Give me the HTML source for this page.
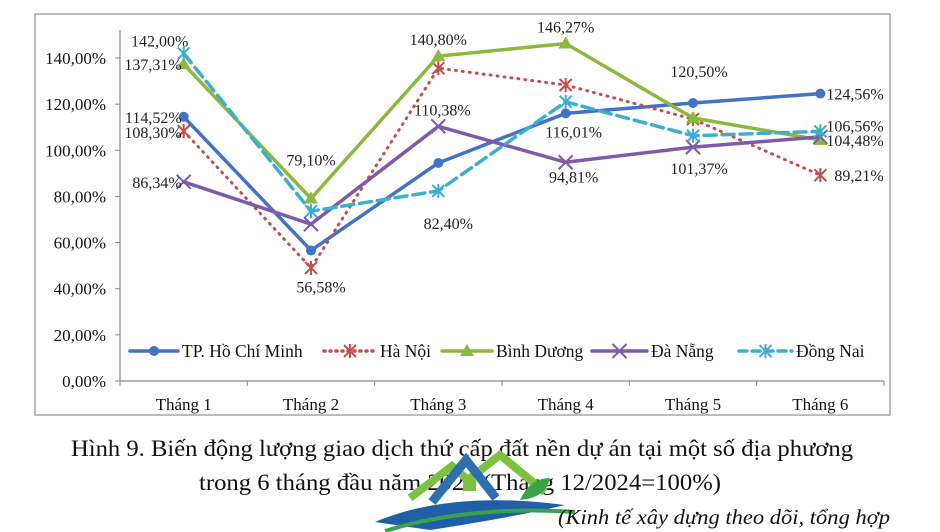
<!DOCTYPE html>
<html><head><meta charset="utf-8"><style>
html,body{margin:0;padding:0;background:#fff;width:940px;height:532px;overflow:hidden}
svg text{font-family:"Liberation Serif",serif}
</style></head><body>
<svg width="940" height="532" viewBox="0 0 940 532">
<rect x="35" y="14" width="855" height="401" fill="#fff" stroke="#a6a6a6" stroke-width="1.5"/>
<g id="axes"></g>
<g id="series"></g>
<g id="labels"></g>
<g id="legend"></g>
<text x="462" y="456" text-anchor="middle" font-size="23" textLength="782" lengthAdjust="spacingAndGlyphs" fill="#111">Hình 9. Biến động lượng giao dịch thứ cấp đất nền dự án tại một số địa phương</text>
<text x="460" y="490" text-anchor="middle" font-size="23" textLength="522" lengthAdjust="spacingAndGlyphs" fill="#111">trong 6 tháng đầu năm 2025 (Tháng 12/2024=100%)</text>
<g>
<path d="M410 498 L452 466 L468 480 L500 455 L545 492" fill="none" stroke="#7cc242" stroke-width="8"/>
<path d="M432 502 L466 460 L496 498" fill="none" stroke="#2f6fb0" stroke-width="9"/>
<rect x="463" y="478" width="13" height="13" fill="#7cc242"/>
<path d="M375 522 Q450 490 565 505 Q520 516 430 530 Z" fill="#1e5fa8"/>
<path d="M385 531 Q470 505 575 512" fill="none" stroke="#3aa34a" stroke-width="4"/>
<path d="M520 500 Q530 478 550 478 Q546 498 520 500 Z" fill="#3aa34a"/>
</g>
<text x="890" y="524" text-anchor="end" font-size="21" font-style="italic" textLength="332" lengthAdjust="spacingAndGlyphs" fill="#111">(Kinh tế xây dựng theo dõi, tổng hợp</text>
<script>
const categories=["Tháng 1","Tháng 2","Tháng 3","Tháng 4","Tháng 5","Tháng 6"];
const yTicks=[0,20,40,60,80,100,120,140];
const yTickLabels=["0,00%","20,00%","40,00%","60,00%","80,00%","100,00%","120,00%","140,00%"];
const seriesNames=["TP. Hồ Chí Minh","Hà Nội","Bình Dương","Đà Nẵng","Đồng Nai"];
const hcm=[114.52,56.58,94.5,116.01,120.50,124.56];
const hanoi=[108.30,49.0,135.6,128.3,113.5,89.21];
const binhduong=[137.31,79.10,140.80,146.27,114.0,104.48];
const danang=[86.34,68.0,110.38,94.81,101.37,105.8];
const dongnai=[142.00,73.6,82.40,121.0,106.3,108.2];
const hcmLabels=["114,52%","56,58%","","116,01%","120,50%","124,56%"];
const hanoiLabels=["108,30%","","","","","89,21%"];
const bdLabels=["137,31%","79,10%","140,80%","146,27%","","104,48%"];
const dnLabels=["86,34%","","110,38%","94,81%","101,37%",""];
const dongnaiLabels=["142,00%","","82,40%","","","106,56%"];

const NS="http://www.w3.org/2000/svg";
const X0=120,X1=884,Y0=381,Y140=58;
function xs(i){return X0+(X1-X0)/categories.length*(i+0.5);}
function ys(v){return Y0-(Y0-Y140)*v/140;}
function mk(tag,attrs,parent){const e=document.createElementNS(NS,tag);for(const k in attrs)e.setAttribute(k,attrs[k]);parent.appendChild(e);return e;}
const axes=document.getElementById('axes');
const yAxis=mk('line',{x1:X0,y1:Y0,x2:X0,y2:30,stroke:'#888','stroke-width':1.2},axes);


const xAxis=mk('line',{x1:X0,y1:Y0,x2:X1,y2:Y0,stroke:'#888','stroke-width':1.2},axes);


yTicks.forEach((v,i)=>{
  mk('line',{x1:X0-5,y1:ys(v),x2:X0,y2:ys(v),stroke:'#888'},axes);
  const t=mk('text',{x:X0-14,y:ys(v)+6,'text-anchor':'end','font-size':17,fill:'#111'},axes);
  t.textContent=yTickLabels[i];
  
  
});
for(let i=0;i<=categories.length;i++){
  const x=X0+(X1-X0)/categories.length*i;
  mk('line',{x1:x,y1:Y0,x2:x,y2:Y0+5,stroke:'#888'},axes);
}
categories.forEach((c,i)=>{
  const t=mk('text',{x:xs(i),y:410,'text-anchor':'middle','font-size':17,fill:'#111'},axes);
  t.textContent=c;
  
  
});
const S=[
 {d:hcm,c:'#4472c4',dash:'',m:'circle',n:'hcm',lab:hcmLabels},
 {d:hanoi,c:'#c0504d',dash:'1 6',m:'star',n:'hanoi',lab:hanoiLabels},
 {d:binhduong,c:'#8cb83f',dash:'',m:'tri',n:'binh-duong',lab:bdLabels},
 {d:danang,c:'#7f5aa8',dash:'',m:'x',n:'da-nang',lab:dnLabels},
 {d:dongnai,c:'#3eaecf',dash:'12 6',m:'star',n:'dong-nai',lab:dongnaiLabels}
];
function marker(type,x,y,c,g){
  if(type==='circle')return mk('circle',{cx:x,cy:y,r:5,fill:c},g);
  if(type==='tri')return mk('path',{d:`M${x} ${y-7}L${x+7} ${y+5}L${x-7} ${y+5}Z`,fill:c},g);
  if(type==='x')return mk('path',{d:`M${x-7} ${y-7}L${x+7} ${y+7}M${x+7} ${y-7}L${x-7} ${y+7}`,stroke:c,'stroke-width':2,fill:'none'},g);
  return mk('path',{d:`M${x-6} ${y-6}L${x+6} ${y+6}M${x+6} ${y-6}L${x-6} ${y+6}M${x} ${y-7}L${x} ${y+7}`,stroke:c,'stroke-width':2,fill:'none'},g);
}
const sg=document.getElementById('series');
S.forEach(s=>{
  const g=mk('g',{},sg);
  
  
  const p=mk('polyline',{points:s.d.map((v,i)=>xs(i)+','+ys(v)).join(' '),fill:'none',stroke:s.c,'stroke-width':s.dash==='1 6'?3:3.5,'stroke-dasharray':s.dash,'stroke-linecap':'round'},g);
  
  
  s.d.forEach((v,i)=>{
    const m=marker(s.m,xs(i),ys(v),s.c,g);
    
    
  });
});
const off={
 hcm:[[-2,6,'end'],[10,42,'middle'],[0,0,''],[8,24,'middle'],[6,-26,'middle'],[6,6,'start']],
 hanoi:[[-2,7,'end'],[0,0,''],[0,0,''],[0,0,''],[0,0,''],[14,6,'start']],
 'binh-duong':[[-2,6,'end'],[0,-33,'middle'],[0,-11,'middle'],[0,-11,'middle'],[0,0,''],[6,6,'start']],
 'da-nang':[[-2,6,'end'],[0,0,''],[4,-11,'middle'],[8,20,'middle'],[6,27,'middle'],[0,0,'']],
 'dong-nai':[[-24,-7,'middle'],[0,0,''],[10,38,'middle'],[0,0,''],[0,0,''],[6,0,'start']]
};
const lg=document.getElementById('labels');
S.forEach(s=>{
  s.lab.forEach((l,i)=>{
    if(!l)return;
    const o=off[s.n][i];
    const t=mk('text',{x:xs(i)+o[0],y:ys(s.d[i])+o[1],'text-anchor':o[2],'font-size':16,fill:'#222'},lg);
    t.textContent=l;
    
    
  });
});
const leg=document.getElementById('legend');
const legX=[130,324,442,592,739];
const legT=[182,380,496,651,796];
S.forEach((s,i)=>{
  const x=legX[i],y=351;
  mk('line',{x1:x,y1:y,x2:legT[i]-4,y2:y,stroke:s.c,'stroke-width':3.5,'stroke-dasharray':s.dash==='12 6'?'8 5':s.dash==='1 6'?'1 5':'','stroke-linecap':'round'},leg);
  marker(s.m,(x+legT[i]-4)/2,y,s.c,leg);
  const t=mk('text',{x:legT[i],y:y+6,'font-size':17.5,fill:'#111'},leg);
  t.textContent=seriesNames[i];
  
  
});
</script>
</svg>
</body></html>
